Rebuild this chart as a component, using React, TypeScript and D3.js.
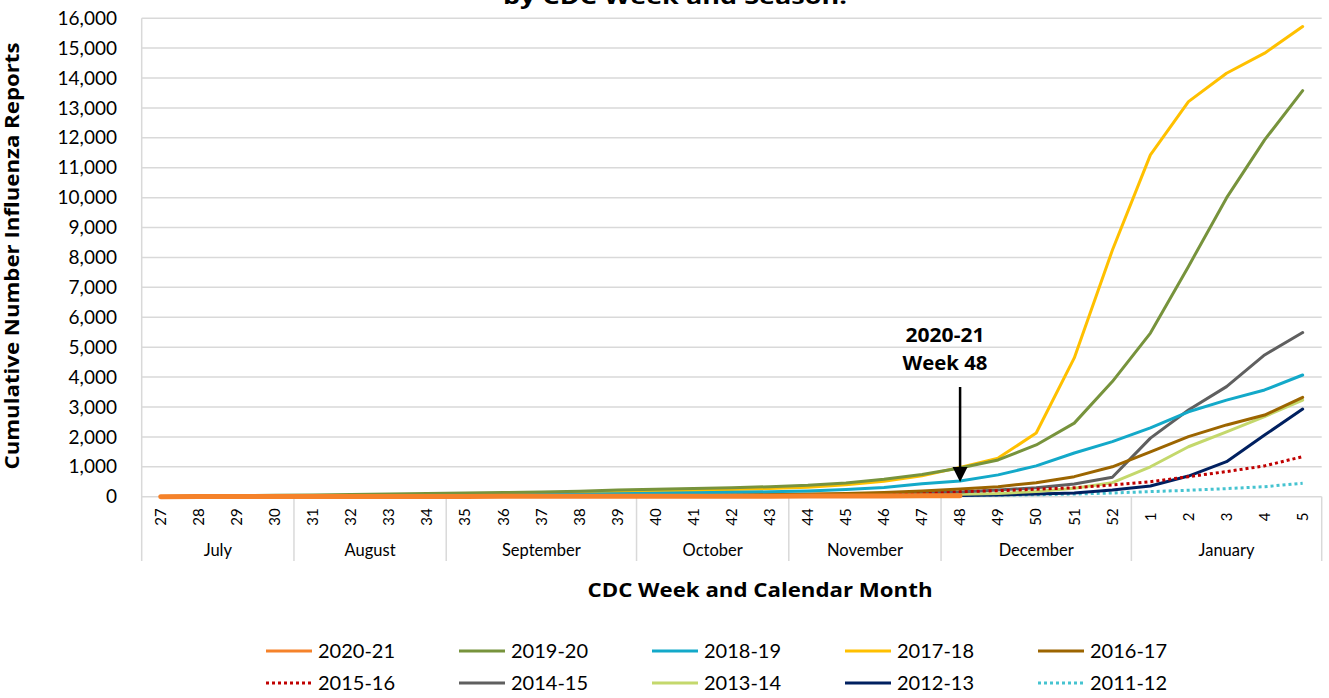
import React from "react";
import * as d3 from "d3";

const weeks = ["27","28","29","30","31","32","33","34","35","36","37","38","39","40","41","42","43","44","45","46","47","48","49","50","51","52","1","2","3","4","5"];
const months = ["July","August","September","October","November","December","January"];
const monthWeekCounts = [4, 4, 5, 4, 4, 5, 5];
const yTicks = [0,1000,2000,3000,4000,5000,6000,7000,8000,9000,10000,11000,12000,13000,14000,15000,16000];

const s2020 = [2,3,4,5,6,7,8,9,10,11,12,13,14,15,16,17,18,20,22,25,28,32];
const s2019 = [10,20,30,45,60,75,90,105,120,140,160,185,220,250,275,300,335,380,460,580,740,960,1230,1730,2460,3850,5470,7700,9990,11930,13580];
const s2018 = [5,8,12,18,25,32,40,48,55,65,75,85,100,115,130,145,165,190,240,310,430,525,730,1030,1460,1840,2300,2840,3230,3570,4070];
const s2017 = [5,10,15,25,35,45,55,65,80,95,110,130,160,185,210,240,270,320,400,520,700,980,1290,2130,4640,8240,11430,13210,14160,14830,15720];
const s2016 = [5,8,10,13,16,19,22,25,28,32,36,40,45,52,58,65,75,90,110,140,190,260,335,470,670,1000,1500,2010,2400,2730,3320];
const s2015 = [3,5,7,9,11,13,15,18,21,24,27,30,34,38,42,47,52,60,80,100,130,170,200,250,300,390,500,670,840,1030,1340];
const s2014 = [2,3,4,5,6,7,8,10,12,14,16,18,20,23,27,32,40,60,75,95,120,160,225,300,425,650,1960,2900,3680,4740,5490];
const s2013 = [1,2,3,4,5,6,7,8,9,10,11,12,13,14,15,17,20,30,40,50,60,80,110,170,280,470,1000,1670,2170,2680,3230];
const s2012 = [1,1,2,2,3,3,4,4,5,5,6,6,7,8,9,10,12,15,20,25,30,40,60,90,125,225,360,690,1170,2060,2930];
const s2011 = [1,1,2,2,3,3,4,4,5,5,6,6,7,8,9,10,12,15,20,25,30,40,50,65,90,125,170,215,270,335,450];

const seasonNames = ["2020-21","2019-20","2018-19","2017-18","2016-17","2015-16","2014-15","2013-14","2012-13","2011-12"];
const seasonValues = [s2020, s2019, s2018, s2017, s2016, s2015, s2014, s2013, s2012, s2011];
const seasonColors = ["#F5822A","#77933C","#13A9C9","#FFC000","#9C6500","#C00000","#5F5F5F","#C4D86C","#002060","#45C3D0"];
const seasonDotted = [false,false,false,false,false,true,false,false,false,true];

const FONT = "Lato, 'Open Sans', sans-serif";
const BOLD = "'Open Sans', Lato, sans-serif";

export default function App() {
  const left = 141.7, right = 1321.7, top = 18.2, bottom = 496.7;
  const x = d3.scaleBand<string>().domain(weeks).range([left, right]).padding(0);
  const y = d3.scaleLinear().domain([0, 16000]).range([bottom, top]);
  const cx = (w: string) => (x(w) as number) + x.bandwidth() / 2;

  const line = d3.line<number>()
    .x((_, i) => cx(weeks[i]))
    .y((v) => y(v));

  const bounds: number[] = [];
  const monthCenters: number[] = [];
  let idx = 0;
  monthWeekCounts.forEach((c) => {
    const start = x(weeks[idx]) as number;
    idx += c;
    const end = idx < weeks.length ? (x(weeks[idx]) as number) : right;
    bounds.push(end);
    monthCenters.push((start + end) / 2);
  });

  const order = seasonNames.map((_, i) => i).reverse();
  const arrowX = cx("48");

  return (
    <svg width={1329} height={698} style={{ position: "absolute", left: 0, top: 0, background: "#fff" }} fontFamily={FONT}>
      <rect x={0} y={0} width={1329} height={698} fill="#fff" />
      <text x={675} y={4} textAnchor="middle" fontWeight="bold" fontSize={21} fontFamily={BOLD} fill="#000"
        textLength={344} lengthAdjust="spacingAndGlyphs">by CDC Week and Season.</text>

      {yTicks.map((t) => (
        <line key={"g" + t} x1={left} x2={right} y1={y(t)} y2={y(t)} stroke="#D9D9D9" strokeWidth={1.5} />
      ))}
      <line x1={left} x2={left} y1={top} y2={561} stroke="#D9D9D9" strokeWidth={1.5} />
      {bounds.map((b, i) => (
        <line key={"b" + i} x1={b} x2={b} y1={bottom} y2={561} stroke="#D9D9D9" strokeWidth={1.5} />
      ))}

      {yTicks.map((t) => (
        <text key={"t" + t} x={117} y={y(t)} dy="0.35em" textAnchor="end" fontSize={19} fill="#000">
          {d3.format(",")(t)}
        </text>
      ))}

      <text transform={`translate(19,256) rotate(-90)`} textAnchor="middle" fontWeight="bold" fontSize={20} fontFamily={BOLD} fill="#000"
        textLength={427} lengthAdjust="spacingAndGlyphs">
        Cumulative Number Influenza Reports
      </text>

      {weeks.map((w) => (
        <text key={"w" + w} transform={`translate(${cx(w)},517) rotate(-90)`} textAnchor="middle" dy="0.35em" fontSize={15} fill="#000">
          {w}
        </text>
      ))}
      {months.map((m, i) => (
        <text key={"m" + m} x={monthCenters[i]} y={550} dy="0.35em" textAnchor="middle" fontSize={16.5} fill="#000">
          {m}
        </text>
      ))}

      <text x={760} y={597} textAnchor="middle" fontWeight="bold" fontSize={20} fontFamily={BOLD} fill="#000"
        textLength={345} lengthAdjust="spacingAndGlyphs">CDC Week and Calendar Month</text>

      {order.map((i) => (
        <path
          key={"s" + i}
          d={line(seasonValues[i]) as string}
          fill="none"
          stroke={seasonColors[i]}
          strokeWidth={i === 0 ? 5 : 3}
          strokeLinecap={seasonDotted[i] ? "butt" : "round"}
          strokeLinejoin="round"
          strokeDasharray={seasonDotted[i] ? "3,3" : undefined}
        />
      ))}

      <text x={945} y={335} dy="0.35em" textAnchor="middle" fontWeight="bold" fontSize={20} fontFamily={BOLD} fill="#000"
        textLength={79} lengthAdjust="spacingAndGlyphs">2020-21</text>
      <text x={945} y={363} dy="0.35em" textAnchor="middle" fontWeight="bold" fontSize={20} fontFamily={BOLD} fill="#000"
        textLength={85} lengthAdjust="spacingAndGlyphs">Week 48</text>
      <line x1={arrowX} x2={arrowX} y1={387} y2={470} stroke="#000" strokeWidth={2.5} />
      <path d={`M${arrowX - 7.5},467 L${arrowX + 7.5},467 L${arrowX},482 Z`} fill="#000" />

      {seasonNames.map((n, i) => {
        const col = i % 5;
        const row = Math.floor(i / 5);
        const lx = 266 + col * 193;
        const ly = 651 + row * 32;
        return (
          <g key={"l" + n}>
            <line x1={lx} x2={lx + 46} y1={ly} y2={ly} stroke={seasonColors[i]} strokeWidth={3}
              strokeDasharray={seasonDotted[i] ? "3,3" : undefined} />
            <text x={lx + 52} y={ly} dy="0.35em" fontSize={20} fill="#000">{n}</text>
          </g>
        );
      })}
    </svg>
  );
}
